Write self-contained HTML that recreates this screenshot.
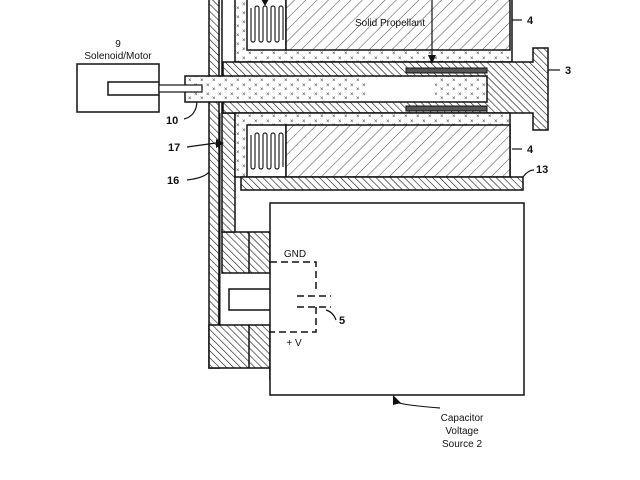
<!DOCTYPE html>
<html><head><style>html,body{margin:0;padding:0;background:#fff}svg{display:block}</style></head><body>
<svg width="640" height="480" viewBox="0 0 640 480" xmlns="http://www.w3.org/2000/svg" font-family="Liberation Sans, sans-serif">
<defs>
<pattern id="hd" width="5" height="5" patternUnits="userSpaceOnUse" patternTransform="rotate(-45)"><rect width="5" height="5" fill="#fff"/><line x1="0" y1="0" x2="0" y2="5" stroke="#111" stroke-width="1.2"/></pattern>
<pattern id="hp" width="8" height="8" patternUnits="userSpaceOnUse" patternTransform="rotate(45)"><rect width="8" height="8" fill="#fff"/><line x1="0" y1="0" x2="0" y2="8" stroke="#333" stroke-width="0.9"/></pattern>
<pattern id="dt" width="12" height="9" patternUnits="userSpaceOnUse"><rect width="12" height="9" fill="#fff"/><text x="2" y="6" font-size="6" fill="#333">×</text><text x="8" y="10" font-size="6" fill="#333">×</text></pattern>
</defs>
<g stroke="#111" stroke-width="1.5">
<rect x="209" y="-2" width="10" height="370" fill="url(#hd)"/>
<path d="M209 325 H270 V368 H209Z" fill="url(#hd)"/>
<line x1="249" y1="325" x2="249" y2="368"/>
<path d="M222 232 H270 V273 H222Z" fill="url(#hd)"/>
<line x1="249" y1="232" x2="249" y2="273"/>
<rect x="222" y="113" width="13" height="119" fill="url(#hd)"/>
<line x1="222" y1="-2" x2="222" y2="113"/>
<line x1="220" y1="113" x2="220" y2="325" stroke-width="1"/>
<path d="M219 273 V325" fill="none"/>
<path d="M270 289 H229 V310 H270" fill="none"/>
<line x1="270" y1="368" x2="270" y2="380"/>
<rect x="270" y="203" width="254" height="192" fill="#fff"/>
<rect x="235" y="-2" width="277" height="64" fill="url(#dt)"/>
<rect x="247" y="-2" width="39" height="52" fill="#fff"/>
<rect x="286" y="-2" width="224" height="52" fill="url(#hp)"/>
<path d="M223 62 H533 V48 H548 V130 H533 V113 H223Z" fill="url(#hd)"/>
<rect x="185" y="76" width="302" height="26" fill="url(#dt)"/>
<rect x="365" y="77" width="70" height="24" fill="#fff" stroke="none"/>
<rect x="406" y="68" width="81" height="5" fill="#555" stroke-width="1"/>
<rect x="406" y="106" width="81" height="5" fill="#555" stroke-width="1"/>
<rect x="235" y="113" width="275" height="64" fill="url(#dt)"/>
<rect x="247" y="125" width="39" height="52" fill="#fff"/>
<rect x="286" y="125" width="224" height="52" fill="url(#hp)"/>
<rect x="241" y="177" width="282" height="13" fill="url(#hd)"/>
<rect x="77" y="64" width="82" height="48" fill="#fff"/>
<path d="M159 82 H108 V95 H159" fill="none"/>
<rect x="159" y="85" width="43" height="7" fill="#fff" stroke-width="1.2"/>
</g>
<g fill="none" stroke="#222" stroke-width="1.2">
<path d="M251 8 v32 a2 2 0 0 0 4 0 v-32 a2 2 0 0 1 4 0 v32 a2 2 0 0 0 4 0 v-32 a2 2 0 0 1 4 0 v32 a2 2 0 0 0 4 0 v-32 a2 2 0 0 1 4 0 v32 a2 2 0 0 0 4 0 v-32 a2 2 0 0 1 4 0 v32"/>
<path d="M251 135 v32 a2 2 0 0 0 4 0 v-32 a2 2 0 0 1 4 0 v32 a2 2 0 0 0 4 0 v-32 a2 2 0 0 1 4 0 v32 a2 2 0 0 0 4 0 v-32 a2 2 0 0 1 4 0 v32 a2 2 0 0 0 4 0 v-32 a2 2 0 0 1 4 0 v32"/>
</g>
<g fill="none" stroke="#111" stroke-width="1.5" stroke-dasharray="7,4">
<path d="M270 262 H316 V292"/>
<path d="M297 296 H331"/>
<path d="M297 307 H331"/>
<path d="M316 307 V332 H270"/>
</g>
<g fill="none" stroke="#111" stroke-width="1.2">
<path d="M184 119 Q196 116 197 102"/>
<path d="M187 147 L216 143"/>
<path d="M187 180 Q204 178 209 172"/>
<path d="M336 320 Q333 312 326 310"/>
<path d="M512 20 H522"/><path d="M512 149 H522"/>
<path d="M548 70 H560"/>
<path d="M523 177 Q528 170 534 170"/>
<path d="M432 0 V56"/>
<path d="M440 408 Q402 405 396 402"/>
</g>
<g fill="#111">
<path d="M216 139 L224 143 L216 148Z"/>
<path d="M428 55 L436 55 L432 64Z"/>
<path d="M261 -1 L269 -1 L265 6Z"/>
<path d="M393 395 L401 403 L393 405Z"/>
</g>
<g font-size="10" fill="#111">
<text x="118" y="47" text-anchor="middle">9</text>
<text x="118" y="59" text-anchor="middle">Solenoid/Motor</text>
<text x="390" y="26" text-anchor="middle">Solid Propellant</text>
<text x="295" y="257" text-anchor="middle">GND</text>
<text x="294" y="346" text-anchor="middle">+ V</text>
<text x="462" y="421" text-anchor="middle">Capacitor</text>
<text x="462" y="434" text-anchor="middle">Voltage</text>
<text x="462" y="447" text-anchor="middle">Source 2</text>
</g>
<g font-size="11" font-weight="bold" fill="#111">
<text x="166" y="124">10</text>
<text x="168" y="151">17</text>
<text x="167" y="184">16</text>
<text x="527" y="24">4</text>
<text x="527" y="153">4</text>
<text x="565" y="74">3</text>
<text x="536" y="173">13</text>
<text x="339" y="324">5</text>
</g>
</svg>
</body></html>
